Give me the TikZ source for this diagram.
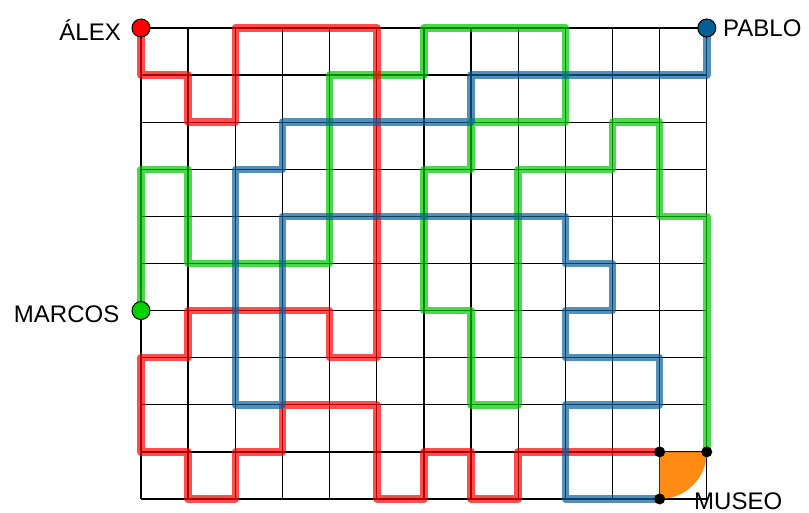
\documentclass[tikz,border=0pt]{standalone}
\usepackage{fontspec}
\setmainfont{Liberation Sans}
\definecolor{routered}{RGB}{255,0,0}
\definecolor{routegreen}{RGB}{0,200,0}
\definecolor{routeblue}{RGB}{10,95,155}
\definecolor{dotblue}{RGB}{0,96,150}
\definecolor{dotgreen}{RGB}{0,210,0}
\definecolor{museumorange}{RGB}{255,128,0}
\tikzset{
  gridline/.style={line width=1.3pt, black},
  route/.style={line width=7.5pt, line join=round, line cap=round, opacity=0.7},
  startdot/.style={circle, draw=black, line width=1pt, minimum size=18pt, inner sep=0pt},
  enddot/.style={circle, fill=black, minimum size=11pt, inner sep=0pt},
  namelabel/.style={inner sep=0pt, font=\fontsize{24}{28}\selectfont}
}
\begin{document}
\begin{tikzpicture}[x=47.15pt,y=47.1pt]
\useasboundingbox (-141pt,-14pt) rectangle (668pt,499pt);
\draw[gridline, xstep=47.15pt, ystep=47.1pt] (0,0) grid (12,10);
% museum sector
\fill[museumorange, opacity=0.92] (11,1) -- (12,1) arc[start angle=0, end angle=-90, x radius=47.15pt, y radius=47.1pt] -- cycle;
% anchor points
\coordinate (alexpt) at (0,10);
\coordinate (pablopt) at (12,10);
\coordinate (marcospt) at (0,4);
\coordinate (endred) at (11,1);
\coordinate (endgreen) at (12,1);
\coordinate (endblue) at (11,0);
% routes
\draw[route, routegreen] (marcospt) -- (0,7) -- (1,7) -- (1,5) -- (4,5) -- (4,9) -- (6,9) -- (6,10) -- (9,10) -- (9,8) -- (7,8) -- (7,7) -- (6,7) -- (6,4) -- (7,4) -- (7,2) -- (8,2) -- (8,7) -- (10,7) -- (10,8) -- (11,8) -- (11,6) -- (12,6) -- (endgreen);
\draw[route, routered] (alexpt) -- (0,9) -- (1,9) -- (1,8) -- (2,8) -- (2,10) -- (5,10) -- (5,3) -- (4,3) -- (4,4) -- (1,4) -- (1,3) -- (0,3) -- (0,1) -- (1,1) -- (1,0) -- (2,0) -- (2,1) -- (3,1) -- (3,2) -- (5,2) -- (5,0) -- (6,0) -- (6,1) -- (7,1) -- (7,0) -- (8,0) -- (8,1) -- (endred);
\draw[route, routeblue] (pablopt) -- (12,9) -- (7,9) -- (7,8) -- (3,8) -- (3,7) -- (2,7) -- (2,2) -- (3,2) -- (3,6) -- (9,6) -- (9,5) -- (10,5) -- (10,4) -- (9,4) -- (9,3) -- (11,3) -- (11,2) -- (9,2) -- (9,0) -- (endblue);
% dots
\node[startdot, fill=routered] (alex) at (alexpt) {};
\node[startdot, fill=dotblue] (pablo) at (pablopt) {};
\node[startdot, fill=dotgreen] (marcos) at (marcospt) {};
\node[enddot] (redend) at (endred) {};
\node[enddot] (greenend) at (endgreen) {};
\node[enddot] (blueend) at (endblue) {};
% labels
\node[namelabel, anchor=base east] (alexlbl) at (-20pt,458pt) {ÁLEX};
\node[namelabel, anchor=base west] (pablolbl) at (582pt,462pt) {PABLO};
\node[namelabel, anchor=base east] (marcoslbl) at (-21.5pt,176pt) {MARCOS};
\node[namelabel, anchor=base west] (museolbl) at (553pt,-11pt) {MUSEO};
\end{tikzpicture}
\end{document}
